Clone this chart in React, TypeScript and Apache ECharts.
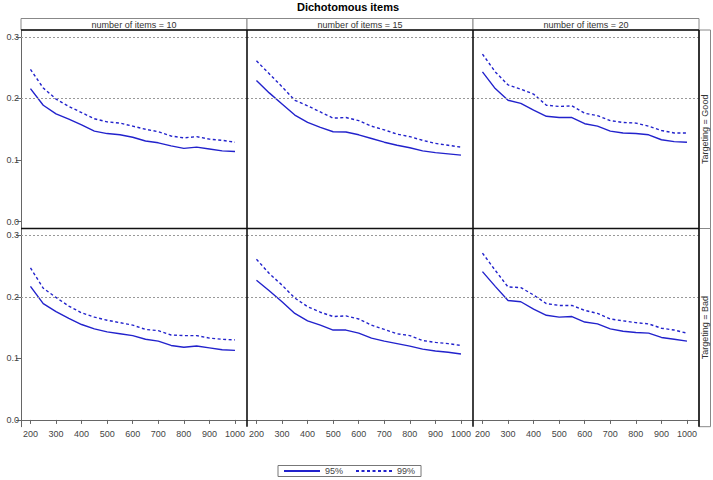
import React, { useEffect, useRef } from "react";
import * as echarts from "echarts";

const xValues = [200, 250, 300, 350, 400, 450, 500, 550, 600, 650, 700, 750, 800, 850, 900, 950, 1000];
const xTicks = [200, 300, 400, 500, 600, 700, 800, 900, 1000];
const yTicks = [0, 0.1, 0.2, 0.3];
const refLines = [0.2, 0.3];
const itemCounts = [10, 15, 20];
const targetings = ["Good", "Bad"];
const levels = ["95%", "99%"];

const good10_95 = [0.216, 0.189, 0.175, 0.1665, 0.157, 0.147, 0.143, 0.141, 0.137, 0.131, 0.128, 0.123, 0.119, 0.121, 0.118, 0.115, 0.114];
const good10_99 = [0.247, 0.217, 0.199, 0.187, 0.177, 0.167, 0.162, 0.16, 0.155, 0.15, 0.146, 0.139, 0.136, 0.138, 0.134, 0.132, 0.129];
const good15_95 = [0.229, 0.209, 0.191, 0.173, 0.161, 0.153, 0.146, 0.1455, 0.141, 0.135, 0.129, 0.124, 0.12, 0.115, 0.112, 0.11, 0.108];
const good15_99 = [0.261, 0.24, 0.219, 0.197, 0.188, 0.178, 0.168, 0.169, 0.164, 0.155, 0.149, 0.142, 0.138, 0.132, 0.127, 0.124, 0.121];
const good20_95 = [0.243, 0.216, 0.197, 0.192, 0.181, 0.171, 0.169, 0.169, 0.159, 0.155, 0.147, 0.144, 0.143, 0.141, 0.133, 0.13, 0.129];
const good20_99 = [0.272, 0.243, 0.222, 0.215, 0.207, 0.189, 0.187, 0.188, 0.176, 0.172, 0.164, 0.161, 0.16, 0.155, 0.148, 0.144, 0.144];
const bad10_95 = [0.217, 0.189, 0.176, 0.165, 0.155, 0.148, 0.143, 0.14, 0.137, 0.131, 0.128, 0.121, 0.118, 0.12, 0.117, 0.114, 0.113];
const bad10_99 = [0.247, 0.214, 0.199, 0.185, 0.174, 0.167, 0.162, 0.158, 0.154, 0.147, 0.145, 0.138, 0.137, 0.137, 0.133, 0.131, 0.13];
const bad15_95 = [0.227, 0.21, 0.192, 0.173, 0.161, 0.154, 0.146, 0.146, 0.141, 0.133, 0.128, 0.124, 0.12, 0.115, 0.112, 0.11, 0.107];
const bad15_99 = [0.261, 0.238, 0.219, 0.198, 0.184, 0.175, 0.168, 0.169, 0.164, 0.154, 0.147, 0.14, 0.137, 0.129, 0.126, 0.124, 0.121];
const bad20_95 = [0.241, 0.217, 0.194, 0.192, 0.18, 0.17, 0.167, 0.168, 0.159, 0.156, 0.148, 0.144, 0.142, 0.141, 0.134, 0.131, 0.128];
const bad20_99 = [0.271, 0.243, 0.216, 0.215, 0.203, 0.189, 0.186, 0.186, 0.178, 0.173, 0.164, 0.161, 0.158, 0.156, 0.149, 0.146, 0.141];

const panelData = [
  [[good10_95, good10_99], [good15_95, good15_99], [good20_95, good20_99]],
  [[bad10_95, bad10_99], [bad15_95, bad15_99], [bad20_95, bad20_99]],
];

const FONT = "Liberation Sans, Arial, sans-serif";
const BLUE = "#2222cc";

export default function App() {
  const ref = useRef<HTMLDivElement>(null);
  useEffect(() => {
    const chart = echarts.init(ref.current!, null, { renderer: "svg" });
    const colLeft = [21, 247, 473];
    const colW = 226;
    const rowTop = [30, 228.5];
    const rowH = [198.5, 198.2];
    const grids: any[] = [];
    const xAxes: any[] = [];
    const yAxes: any[] = [];
    const series: any[] = [];
    let idx = 0;
    for (let r = 0; r < 2; r++) {
      for (let c = 0; c < 3; c++) {
        grids.push({ left: colLeft[c], top: rowTop[r], width: colW, height: rowH[r], containLabel: false });
        const showX = r === 1;
        const showY = c === 0;
        xAxes.push({
          type: "value",
          gridIndex: idx,
          min: 163,
          max: 1047,
          axisLine: { show: showX, lineStyle: { color: "#666", width: 1 } },
          axisTick: { show: showX, length: 4, customValues: xTicks, lineStyle: { color: "#666" } },
          axisLabel: {
            show: showX,
            customValues: xTicks,
            fontSize: 9,
            color: "#444",
            margin: 3,
            fontFamily: FONT,
            formatter: (v: number) => String(v),
          },
          splitLine: { show: false },
        });
        yAxes.push({
          type: "value",
          gridIndex: idx,
          min: -0.011,
          max: 0.311,
          axisLine: { show: showY, lineStyle: { color: "#666", width: 1 } },
          axisTick: { show: showY, length: 5, customValues: yTicks, lineStyle: { color: "#666" } },
          axisLabel: {
            show: showY,
            customValues: yTicks,
            fontSize: 9,
            color: "#444",
            margin: 2,
            fontFamily: FONT,
            formatter: (v: number) => v.toFixed(1),
          },
          splitLine: { show: false },
        });
        const [s95, s99] = panelData[r][c];
        series.push({
          name: levels[0],
          type: "line",
          xAxisIndex: idx,
          yAxisIndex: idx,
          data: xValues.map((x, i) => [x, s95[i]]),
          symbol: "none",
          lineStyle: { color: BLUE, width: 1.4, type: "solid" },
          itemStyle: { color: BLUE },
          markLine: {
            silent: true,
            symbol: "none",
            label: { show: false },
            lineStyle: { color: "#999", width: 1, type: [2, 2] },
            data: refLines.map((v) => ({ yAxis: v })),
          },
        });
        series.push({
          name: levels[1],
          type: "line",
          xAxisIndex: idx,
          yAxisIndex: idx,
          data: xValues.map((x, i) => [x, s99[i]]),
          symbol: "none",
          lineStyle: { color: BLUE, width: 1.4, type: [3, 2.5] },
          itemStyle: { color: BLUE },
        });
        idx++;
      }
    }

    const graphics: any[] = [];
    for (let c = 0; c < 3; c++) {
      graphics.push({
        type: "rect",
        shape: { x: colLeft[c], y: 18.5, width: colW, height: 11.5 },
        style: { fill: "#fff", stroke: "#888", lineWidth: 1 },
        z: 5,
      });
      graphics.push({
        type: "text",
        x: colLeft[c] + colW / 2,
        y: 24.5,
        style: {
          text: `number of items = ${itemCounts[c]}`,
          fontSize: 9,
          fontFamily: FONT,
          fill: "#333",
          textAlign: "center",
          textVerticalAlign: "middle",
        },
        z: 6,
      });
    }
    for (let r = 0; r < 2; r++) {
      graphics.push({
        type: "rect",
        shape: { x: 699, y: rowTop[r], width: 11.5, height: rowH[r] },
        style: { fill: "#fff", stroke: "#888", lineWidth: 1 },
        z: 5,
      });
      graphics.push({
        type: "text",
        x: 705,
        y: rowTop[r] + rowH[r] / 2,
        rotation: Math.PI / 2,
        style: {
          text: `Targeting = ${targetings[r]}`,
          fontSize: 9,
          fontFamily: FONT,
          fill: "#333",
          textAlign: "center",
          textVerticalAlign: "middle",
        },
        z: 6,
      });
    }
    const bottom = rowTop[1] + rowH[1];
    const dark = { stroke: "#111", lineWidth: 1.6 };
    graphics.push({ type: "line", shape: { x1: 21, y1: 30, x2: 699, y2: 30 }, style: dark, z: 7 });
    graphics.push({ type: "line", shape: { x1: 21, y1: 228.5, x2: 699, y2: 228.5 }, style: dark, z: 7 });
    graphics.push({ type: "line", shape: { x1: 247, y1: 30, x2: 247, y2: bottom }, style: dark, z: 7 });
    graphics.push({ type: "line", shape: { x1: 473, y1: 30, x2: 473, y2: bottom }, style: dark, z: 7 });
    graphics.push({ type: "line", shape: { x1: 699, y1: 30, x2: 699, y2: bottom }, style: dark, z: 7 });
    graphics.push({
      type: "text",
      x: 348,
      y: 7,
      style: {
        text: "Dichotomous items",
        fontSize: 11,
        fontWeight: "bold",
        fontFamily: FONT,
        fill: "#000",
        textAlign: "center",
        textVerticalAlign: "middle",
      },
      z: 6,
    });

    chart.setOption({
      animation: false,
      backgroundColor: "#fff",
      grid: grids,
      xAxis: xAxes,
      yAxis: yAxes,
      series,
      legend: {
        data: levels,
        left: 278,
        top: 465.5,
        orient: "horizontal",
        itemWidth: 36,
        itemHeight: 8,
        itemGap: 12,
        padding: [1, 6, 1, 5],
        borderColor: "#777",
        borderWidth: 1,
        itemStyle: { opacity: 0 },
        textStyle: { fontSize: 9, color: "#444", fontFamily: FONT },
        selectedMode: false,
      },
      graphic: graphics,
    });
    return () => chart.dispose();
  }, []);
  return <div ref={ref} style={{ position: "absolute", left: 0, top: 0, width: 713, height: 480 }} />;
}
